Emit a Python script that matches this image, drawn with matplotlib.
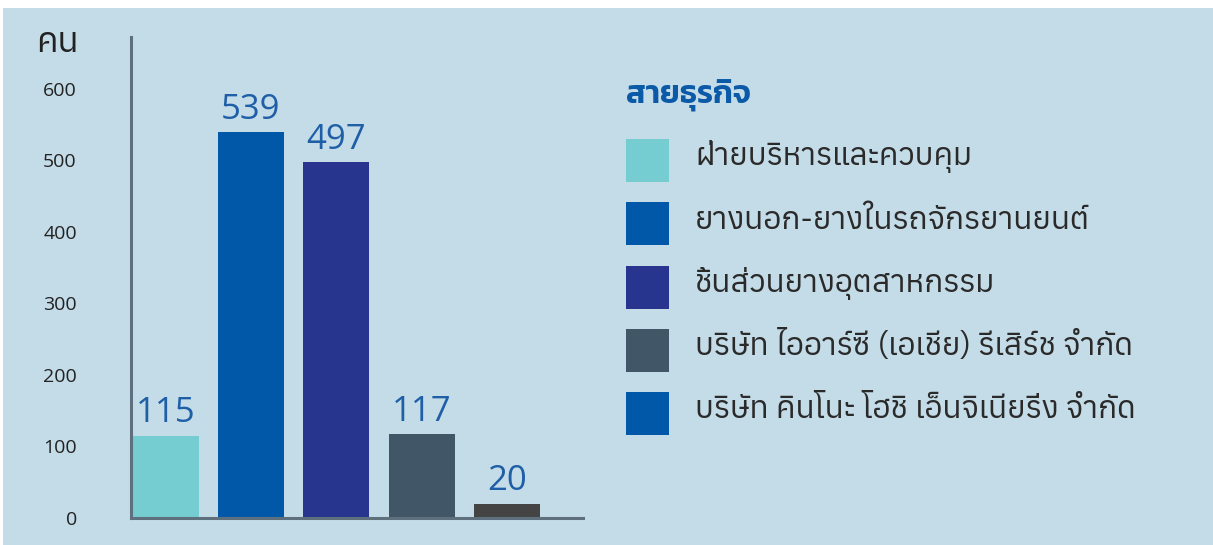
import matplotlib
matplotlib.use("Agg")
import matplotlib.pyplot as plt
from matplotlib.patches import Rectangle

# Headcount by business unit
categories = [
    "ฝ่ายบริหารและควบคุม",
    "ยางนอก-ยางในรถจักรยานยนต์",
    "ชิ้นส่วนยางอุตสาหกรรม",
    "บริษัท ไออาร์ซี (เอเชีย) รีเสิร์ช จำกัด",
    "บริษัท คินโนะ โฮชิ เอ็นจิเนียริ่ง จำกัด",
]
headcount = [115, 539, 497, 117, 20]
bar_colors = ["#75CCD1", "#0258A8", "#28358E", "#415666", "#444444"]
legend_colors = ["#75CCD1", "#0258A8", "#28358E", "#415666", "#0258A8"]
y_ticks = [0, 100, 200, 300, 400, 500, 600]
y_unit = "คน"
legend_title = "สายธุรกิจ"

THAI = ["Anuphan", "DejaVu Sans"]
THAI_BOLD = ["Kanit", "DejaVu Sans"]
NUM = ["Open Sans", "DejaVu Sans"]
BG = "#C4DCE8"

W, H = 1213, 545
fig = plt.figure(figsize=(W / 100, H / 100), dpi=100, facecolor="white")

# light blue panel behind everything
fig.add_artist(Rectangle((3 / W, 0), 1 - 3 / W, (H - 8) / H,
                         transform=fig.transFigure, facecolor=BG,
                         edgecolor="none", zorder=0))


def px(x, y):
    """figure fraction from a pixel position measured from the top-left"""
    return x / W, 1 - y / H


ax = fig.add_axes([131 / W, (H - 518) / H, (583 - 131) / W, (518 - 37) / H])
ax.set_facecolor("none")
xs = list(range(len(headcount)))
ax.bar(xs, headcount, width=0.775, color=bar_colors, zorder=2)
ax.set_xlim(-0.403, 4.889)
ax.set_ylim(0, 672)

for s in ("top", "right"):
    ax.spines[s].set_visible(False)
for s in ("left", "bottom"):
    ax.spines[s].set_color("#5E707D")
    ax.spines[s].set_linewidth(2.2)
    ax.spines[s].set_zorder(3)

ax.set_xticks([])
ax.set_yticks(y_ticks)
ax.set_yticklabels([str(t) for t in y_ticks], family=NUM, fontsize=14,
                   color="#222222")
ax.tick_params(axis="y", length=0, pad=39)

for x, v in zip(xs, headcount):
    ax.annotate(str(v), (x, v), xytext=(0, 4), textcoords="offset points",
                ha="center", va="bottom", family=NUM, fontsize=25,
                color="#1F5FA8", zorder=4)

fig.text(*px(57, 52), y_unit, family=THAI, fontsize=25, color="#222222",
         ha="center", va="baseline")

# legend
fig.text(*px(626, 104), legend_title, family=THAI_BOLD, fontsize=22.8,
         fontweight="semibold", color="#0B5AA8", ha="left", va="baseline")
row_centres = [160.5, 224, 287.5, 350, 413.5]
sw = 43
for yc, col, lab in zip(row_centres, legend_colors, categories):
    x0, y0 = px(626, yc + sw / 2)
    fig.add_artist(Rectangle((x0, y0), sw / W, sw / H,
                             transform=fig.transFigure, facecolor=col,
                             edgecolor="none", zorder=2))
    fig.text(*px(695, yc + 5), lab, family=THAI, fontsize=22.7,
             color="#2A2A2A", ha="left", va="baseline")

fig.savefig("out.png", dpi=100, facecolor="white")
